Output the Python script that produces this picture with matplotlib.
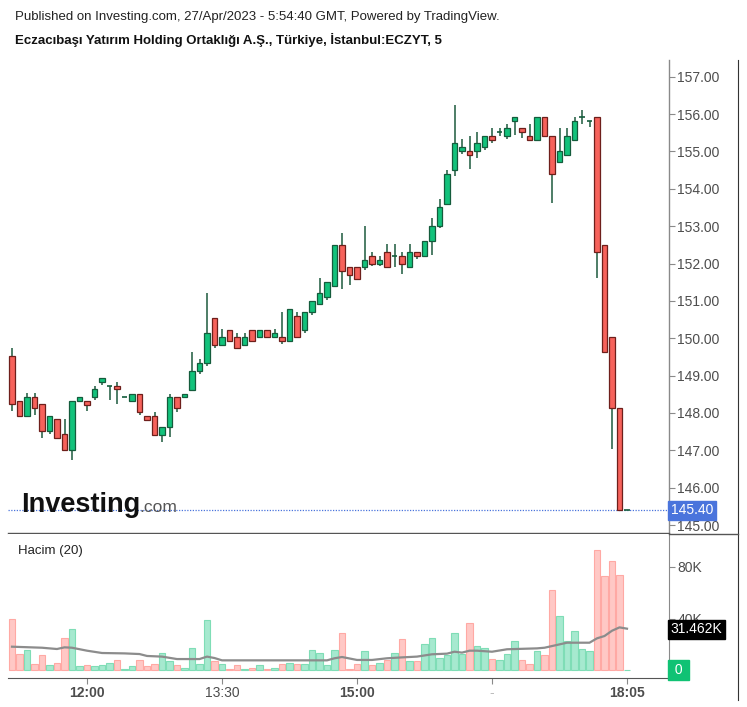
import matplotlib
matplotlib.use("Agg")
import matplotlib.pyplot as plt
import numpy as np

# ---------------- data ----------------
opens = [149.53, 148.32, 147.92, 148.42, 148.23, 147.52, 147.83, 147.43, 147.01, 148.32,
         148.33, 148.42, 148.82, 148.73, 148.73, 148.42, 148.32, 148.52, 147.92, 147.92,
         147.42, 147.62, 148.42, 148.42, 148.62, 149.12, 149.33, 150.53, 149.83, 150.23,
         150.02, 149.83, 150.23, 150.02, 150.23, 150.02, 150.02, 149.93, 150.60, 150.22,
         150.70, 150.91, 151.10, 151.40, 152.50, 151.90, 151.90, 151.90, 152.20, 152.00,
         152.31, 152.20, 152.20, 151.90, 152.31, 152.20, 152.60, 153.00, 153.60, 154.51,
         155.01, 155.01, 155.01, 155.11, 155.42, 155.52, 155.42, 155.81, 155.62, 155.41,
         155.31, 155.91, 155.41, 154.71, 154.91, 155.31, 155.91, 155.82, 155.91, 152.50,
         150.02, 148.12, 145.40]
highs = [149.74, 148.32, 148.54, 148.54, 148.23, 147.92, 147.83, 147.84, 148.33, 148.42,
         148.33, 148.73, 148.93, 148.73, 148.83, 148.42, 148.52, 148.52, 147.92, 148.03,
         147.62, 148.52, 148.42, 148.52, 149.64, 149.44, 151.21, 150.53, 150.24, 150.23,
         150.13, 150.13, 150.23, 150.23, 150.23, 150.24, 150.71, 150.79, 150.71, 150.70,
         151.00, 151.60, 151.50, 152.50, 152.81, 151.90, 151.90, 153.01, 152.32, 152.20,
         152.51, 152.51, 152.30, 152.51, 152.31, 152.60, 153.22, 153.72, 154.51, 156.23,
         155.32, 155.42, 155.52, 155.42, 155.62, 155.62, 155.73, 155.91, 155.62, 155.73,
         155.91, 155.91, 155.41, 155.62, 155.62, 155.91, 156.12, 155.82, 155.91, 152.50,
         150.02, 148.12, 145.40]
lows = [148.05, 147.92, 147.92, 147.94, 147.34, 147.44, 147.33, 147.01, 146.74, 148.32,
        148.05, 148.35, 148.75, 148.35, 148.25, 148.42, 148.32, 147.94, 147.82, 147.42,
        147.23, 147.35, 148.03, 148.42, 148.62, 149.05, 149.26, 149.75, 149.83, 149.93,
        149.73, 149.83, 149.93, 150.02, 150.02, 150.02, 149.85, 149.93, 150.02, 150.15,
        150.61, 150.91, 151.02, 151.40, 151.33, 151.42, 151.59, 151.83, 151.93, 151.93,
        151.90, 151.90, 151.72, 151.90, 152.12, 152.20, 152.22, 152.94, 153.60, 154.33,
        154.94, 154.53, 154.83, 155.04, 155.23, 155.42, 155.34, 155.44, 155.35, 155.31,
        155.31, 155.41, 153.63, 154.71, 154.91, 155.31, 155.74, 155.65, 151.62, 149.63,
        147.03, 145.40, 145.40]
closes = [148.23, 147.92, 148.42, 148.12, 147.52, 147.92, 147.33, 147.01, 148.33, 148.42,
          148.22, 148.63, 148.93, 148.73, 148.63, 148.42, 148.52, 148.02, 147.82, 147.42,
          147.62, 148.42, 148.12, 148.52, 149.13, 149.33, 150.13, 149.83, 150.02, 149.93,
          149.73, 150.02, 149.93, 150.23, 150.02, 150.13, 149.93, 150.79, 150.02, 150.70,
          151.00, 151.20, 151.50, 152.50, 151.80, 151.70, 151.59, 152.10, 152.00, 152.10,
          151.90, 152.20, 152.00, 152.31, 152.20, 152.60, 153.00, 153.50, 154.40, 155.22,
          155.11, 154.90, 155.22, 155.42, 155.31, 155.52, 155.62, 155.91, 155.52, 155.31,
          155.91, 155.41, 154.40, 155.01, 155.41, 155.81, 155.91, 155.82, 152.32, 149.63,
          148.12, 145.40, 145.40]
volumes_k = [39.6, 12.4, 15.5, 4.7, 11.4, 3.6, 5.7, 25.1, 31.8, 2.8,
             3.6, 2.8, 3.6, 5.7, 7.8, 0.8, 2.8, 7.8, 3.1, 4.7,
             13.5, 6.7, 3.6, 1.8, 17.3, 4.7, 38.6, 6.7, 4.7, 0.5,
             3.6, 0.8, 1.8, 3.6, 0.5, 1.8, 4.7, 5.7, 4.7, 4.7,
             15.5, 13.5, 3.6, 15.5, 29.0, 0.8, 4.7, 14.5, 3.6, 5.7,
             7.8, 13.5, 24.1, 6.7, 6.7, 19.9, 25.1, 9.6, 11.4, 29.0,
             12.4, 36.8, 18.4, 17.3, 8.5, 7.8, 12.4, 22.3, 7.8, 4.7,
             14.5, 11.4, 61.9, 41.7, 22.3, 30.0, 16.3, 14.5, 92.9, 72.7,
             84.4, 73.8, 0.3]
# 20-period volume average at these bar indices
ma_idx = [0, 4, 6, 7, 8, 10, 12, 15, 17, 18, 20, 22, 25, 26, 27, 28, 42, 43, 44, 46,
          48, 50, 52, 54, 56, 58, 59, 60, 61, 62, 64, 66, 70, 71, 73, 74, 77, 78, 79, 80,
          81, 82]
ma_vals_k = [18.1, 17.3, 16.3, 17.6, 17.3, 15.0, 13.2, 12.9, 12.4, 10.9, 10.4, 8.5, 8.5,
             10.4, 9.3, 7.5, 7.5, 9.1, 10.1, 7.8, 7.8, 9.1, 9.8, 10.4, 12.2, 12.7, 14.2,
             13.5, 15.0, 15.0, 14.2, 16.1, 16.8, 17.3, 19.9, 21.2, 21.2, 24.6, 26.4, 30.5,
             33.1, 32.1]
xtick_idx = [10, 28, 46, 64, 82]
xtick_labels = ["12:00", "13:30", "15:00", "-", "18:05"]
xtick_bold = [True, False, True, False, True]
price_ticks = [145, 146, 147, 148, 149, 150, 151, 152, 153, 154, 155, 156, 157]
vol_ticks_k = [40, 80]
last_price = 145.40
last_ma_label = "31.462K"

title1 = "Published on Investing.com, 27/Apr/2023 - 5:54:40 GMT, Powered by TradingView."
title2 = "Eczacıbaşı Yatırım Holding Ortaklığı A.Ş., Türkiye, İstanbul:ECZYT, 5"

# ---------------- style ----------------
W, H = 747, 707
UP = "#12C27B"
DOWN = "#F6625B"
UP_EDGE = "#145c3c"
DOWN_EDGE = "#6e1f1b"
WICK = "#1d5a3d"
VUP = "#A6E9CF"
VUP_E = "#7FDDB6"
VDN = "#FFC8C5"
VDN_E = "#FFA9A4"
TXT = "#4d4d4d"

plt.rcParams['font.family'] = ['Liberation Sans', 'DejaVu Sans']

fig = plt.figure(figsize=(W / 100, H / 100), dpi=100)
fig.patch.set_facecolor("white")


def fx(px):
    return px / W


def fy(py):
    return 1 - py / H


L, R = 8, 669
ax = fig.add_axes([fx(L), fy(533), fx(R - L), (533 - 60) / H])
axv = fig.add_axes([fx(L), fy(678), fx(R - L), (678 - 534) / H])

n = len(opens)
idx = np.arange(n)
x_of = lambda px: (px - 12) / 7.5
xlim = (x_of(L), x_of(R))

# ---------------- candles ----------------
bw = 0.72
for i in range(n):
    o, h, l, c = opens[i], highs[i], lows[i], closes[i]
    up = c >= o
    ax.vlines(i, l, h, color=WICK, lw=1.1, zorder=2)
    lo, hi = min(o, c), max(o, c)
    if hi - lo < 0.03:
        ax.hlines(o, i - bw / 2, i + bw / 2, color=UP_EDGE if up else DOWN_EDGE, lw=1.2, zorder=3)
    else:
        ax.bar(i, hi - lo, bottom=lo, width=bw, color=UP if up else DOWN,
               edgecolor=UP_EDGE if up else DOWN_EDGE, linewidth=0.9, zorder=3)

ax.set_xlim(*xlim)
p_of = lambda py: 157 - (py - 76.7) / 37.36
ax.set_ylim(p_of(533), p_of(60))
ax.axhline(last_price, color="#4a74dc", lw=0.9, ls=(0, (1, 1.2)), zorder=1)

for s in ["left", "top"]:
    ax.spines[s].set_visible(False)
ax.spines["bottom"].set_color("#555555")
ax.spines["bottom"].set_linewidth(1.0)
ax.spines["right"].set_color("#8a8a8a")
ax.spines["right"].set_linewidth(1.0)
ax.set_xticks([])
ax.yaxis.tick_right()
ax.set_yticks(price_ticks)
ax.set_yticklabels([f"{t:.2f}" for t in price_ticks])
ax.tick_params(axis="y", length=4, width=0.8, color="#8a8a8a", labelcolor=TXT,
               labelsize=10, pad=2)

# last price label
ax.text(1.0025, last_price, f"{last_price:.2f}", transform=ax.get_yaxis_transform(),
        ha="left", va="center", color="white", fontsize=10, zorder=10,
        bbox=dict(boxstyle="square,pad=0.18", fc="#4a74dc", ec="#4a74dc"), clip_on=False)

# Investing watermark
fig.text(fx(21), fy(505), "Investing", fontsize=19.5, fontweight="bold", color="#111111",
         ha="left", va="center")
fig.text(fx(139), fy(508), ".com", fontsize=12.5, color="#555555", ha="left", va="center")

# ---------------- volume ----------------
vcol = [VUP if closes[i] >= opens[i] else VDN for i in range(n)]
vedge = [VUP_E if closes[i] >= opens[i] else VDN_E for i in range(n)]
axv.bar(idx, np.array(volumes_k), width=0.88, color=vcol, edgecolor=vedge, linewidth=0.8,
        zorder=2)
axv.plot(ma_idx, ma_vals_k, color="#8c8c8c", lw=1.6, zorder=3)
v_of = lambda py: (670 - py) / 1.2875
axv.set_ylim(v_of(678), v_of(534))
axv.set_xlim(*xlim)
for s in ["left", "top"]:
    axv.spines[s].set_visible(False)
axv.spines["bottom"].set_color("#555555")
axv.spines["right"].set_color("#8a8a8a")
axv.yaxis.tick_right()
axv.set_yticks(vol_ticks_k)
axv.set_yticklabels([f"{t}K" for t in vol_ticks_k])
axv.tick_params(axis="y", length=4, width=0.8, color="#8a8a8a", labelcolor=TXT,
                labelsize=10, pad=2)
axv.set_xticks(xtick_idx)
axv.set_xticklabels(xtick_labels)
for lab, b in zip(axv.get_xticklabels(), xtick_bold):
    lab.set_fontweight("bold" if b else "normal")
axv.tick_params(axis="x", length=4, width=0.8, color="#8a8a8a", labelcolor=TXT,
                labelsize=10, pad=2)
axv.get_xticklabels()[3].set_color("#bbbbbb")
axv.text(0.015, 0.88, "Hacim (20)", transform=axv.transAxes, fontsize=9.5, color="#222222",
         ha="left", va="center")
# label boxes
axv.text(1.0025, 31.462, last_ma_label, transform=axv.get_yaxis_transform(), ha="left",
         va="center", color="white", fontsize=10, zorder=10, clip_on=False,
         bbox=dict(boxstyle="square,pad=0.2", fc="black", ec="black"))
axv.text(1.0025, 0, " 0 ", transform=axv.get_yaxis_transform(), ha="left", va="center",
         color="white", fontsize=10, zorder=10, clip_on=False,
         bbox=dict(boxstyle="square,pad=0.2", fc="#10c274", ec="#10c274"))

# frame lines on far right
fig.add_artist(plt.Line2D([fx(738), fx(738)], [fy(60), fy(700)], color="#333333", lw=0.8))
fig.add_artist(plt.Line2D([fx(669), fx(738)], [fy(533.5), fy(533.5)], color="#555555", lw=1.0))

# titles
fig.text(fx(15), fy(17), title1, fontsize=9.5, color="#222222", ha="left", va="center",
         family=["Liberation Sans Narrow", "Liberation Sans", "DejaVu Sans"])
fig.text(fx(15), fy(40), title2, fontsize=9.5, color="#111111", ha="left", va="center",
         fontweight="bold", family=["Liberation Sans Narrow", "Liberation Sans", "DejaVu Sans"])

fig.savefig("out.png", dpi=100, facecolor="white")
